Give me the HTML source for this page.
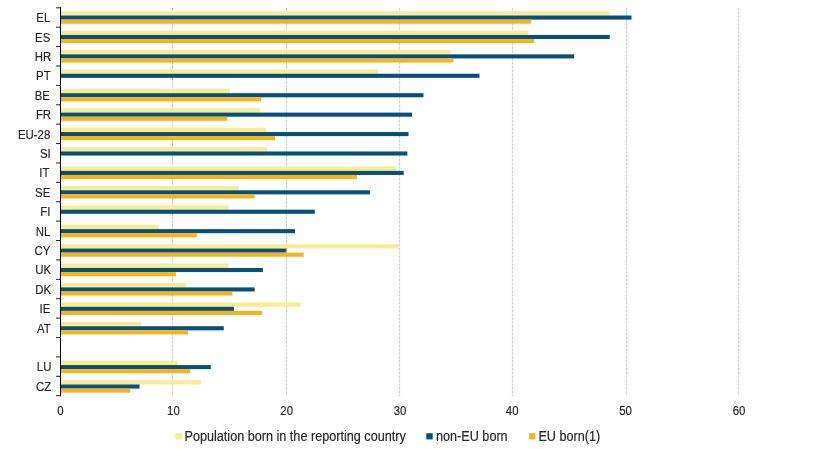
<!DOCTYPE html>
<html><head><meta charset="utf-8"><style>
html,body{margin:0;padding:0;background:#fff;}
body{width:817px;height:449px;position:relative;overflow:hidden;}
.lab{font-family:"Liberation Sans",sans-serif;font-size:11.4px;fill:#242424;stroke:#242424;stroke-width:0.14px;}
.leg{font-family:"Liberation Sans",sans-serif;font-size:12.65px;fill:#242424;stroke:#242424;stroke-width:0.15px;}
svg{will-change:transform;}
</style></head><body>
<svg width="817" height="449" viewBox="0 0 817 449" style="position:absolute;left:0;top:0">
<line x1="172.5" y1="8.0" x2="172.5" y2="396.0" stroke="#ececec" stroke-width="1.2"/>
<line x1="172.5" y1="8.0" x2="172.5" y2="396.0" stroke="#cdcdcd" stroke-width="1.2" stroke-dasharray="1.936,1.936"/>
<line x1="286.5" y1="8.0" x2="286.5" y2="396.0" stroke="#ececec" stroke-width="1.2"/>
<line x1="286.5" y1="8.0" x2="286.5" y2="396.0" stroke="#cdcdcd" stroke-width="1.2" stroke-dasharray="1.936,1.936"/>
<line x1="399.5" y1="8.0" x2="399.5" y2="396.0" stroke="#ececec" stroke-width="1.2"/>
<line x1="399.5" y1="8.0" x2="399.5" y2="396.0" stroke="#cdcdcd" stroke-width="1.2" stroke-dasharray="1.936,1.936"/>
<line x1="512.5" y1="8.0" x2="512.5" y2="396.0" stroke="#ececec" stroke-width="1.2"/>
<line x1="512.5" y1="8.0" x2="512.5" y2="396.0" stroke="#cdcdcd" stroke-width="1.2" stroke-dasharray="1.936,1.936"/>
<line x1="626.5" y1="8.0" x2="626.5" y2="396.0" stroke="#ececec" stroke-width="1.2"/>
<line x1="626.5" y1="8.0" x2="626.5" y2="396.0" stroke="#cdcdcd" stroke-width="1.2" stroke-dasharray="1.936,1.936"/>
<line x1="738.5" y1="8.0" x2="738.5" y2="396.0" stroke="#ececec" stroke-width="1.2"/>
<line x1="738.5" y1="8.0" x2="738.5" y2="396.0" stroke="#cdcdcd" stroke-width="1.2" stroke-dasharray="1.936,1.936"/>
<rect x="61.0" y="11.20" width="548.80" height="4.2" fill="#fbeb8e"/>
<rect x="61.0" y="15.50" width="570.50" height="4.1" fill="#065178"/>
<rect x="61.0" y="19.60" width="470.30" height="4.1" fill="#f8b31a"/>
<rect x="61.0" y="30.62" width="467.40" height="4.2" fill="#fbeb8e"/>
<rect x="61.0" y="34.92" width="548.80" height="4.1" fill="#065178"/>
<rect x="61.0" y="39.02" width="473.10" height="4.1" fill="#f8b31a"/>
<rect x="61.0" y="50.04" width="389.30" height="4.2" fill="#fbeb8e"/>
<rect x="61.0" y="54.34" width="513.20" height="4.1" fill="#065178"/>
<rect x="61.0" y="58.44" width="392.50" height="4.1" fill="#f8b31a"/>
<rect x="61.0" y="69.46" width="317.10" height="4.2" fill="#fbeb8e"/>
<rect x="61.0" y="73.76" width="418.50" height="4.1" fill="#065178"/>
<rect x="61.0" y="88.88" width="169.00" height="4.2" fill="#fbeb8e"/>
<rect x="61.0" y="93.18" width="362.50" height="4.1" fill="#065178"/>
<rect x="61.0" y="97.28" width="200.20" height="4.1" fill="#f8b31a"/>
<rect x="61.0" y="108.30" width="199.10" height="4.2" fill="#fbeb8e"/>
<rect x="61.0" y="112.60" width="351.10" height="4.1" fill="#065178"/>
<rect x="61.0" y="116.70" width="166.40" height="4.1" fill="#f8b31a"/>
<rect x="61.0" y="127.72" width="205.00" height="4.2" fill="#fbeb8e"/>
<rect x="61.0" y="132.02" width="347.50" height="4.1" fill="#065178"/>
<rect x="61.0" y="136.12" width="214.10" height="4.1" fill="#f8b31a"/>
<rect x="61.0" y="147.14" width="206.10" height="4.2" fill="#fbeb8e"/>
<rect x="61.0" y="151.44" width="346.40" height="4.1" fill="#065178"/>
<rect x="61.0" y="166.56" width="335.00" height="4.2" fill="#fbeb8e"/>
<rect x="61.0" y="170.86" width="342.70" height="4.1" fill="#065178"/>
<rect x="61.0" y="174.96" width="296.00" height="4.1" fill="#f8b31a"/>
<rect x="61.0" y="185.98" width="177.80" height="4.2" fill="#fbeb8e"/>
<rect x="61.0" y="190.28" width="308.90" height="4.1" fill="#065178"/>
<rect x="61.0" y="194.38" width="193.60" height="4.1" fill="#f8b31a"/>
<rect x="61.0" y="205.40" width="167.50" height="4.2" fill="#fbeb8e"/>
<rect x="61.0" y="209.70" width="253.80" height="4.1" fill="#065178"/>
<rect x="61.0" y="224.82" width="98.10" height="4.2" fill="#fbeb8e"/>
<rect x="61.0" y="229.12" width="234.00" height="4.1" fill="#065178"/>
<rect x="61.0" y="233.22" width="135.90" height="4.1" fill="#f8b31a"/>
<rect x="61.0" y="244.24" width="337.50" height="4.2" fill="#fbeb8e"/>
<rect x="61.0" y="248.54" width="225.40" height="4.1" fill="#065178"/>
<rect x="61.0" y="252.64" width="242.70" height="4.1" fill="#f8b31a"/>
<rect x="61.0" y="263.66" width="167.50" height="4.2" fill="#fbeb8e"/>
<rect x="61.0" y="267.96" width="201.90" height="4.1" fill="#065178"/>
<rect x="61.0" y="272.06" width="115.00" height="4.1" fill="#f8b31a"/>
<rect x="61.0" y="283.08" width="125.20" height="4.2" fill="#fbeb8e"/>
<rect x="61.0" y="287.38" width="193.70" height="4.1" fill="#065178"/>
<rect x="61.0" y="291.48" width="171.40" height="4.1" fill="#f8b31a"/>
<rect x="61.0" y="302.50" width="239.50" height="4.2" fill="#fbeb8e"/>
<rect x="61.0" y="306.80" width="173.00" height="4.1" fill="#065178"/>
<rect x="61.0" y="310.90" width="201.20" height="4.1" fill="#f8b31a"/>
<rect x="61.0" y="321.92" width="80.10" height="4.2" fill="#fbeb8e"/>
<rect x="61.0" y="326.22" width="162.80" height="4.1" fill="#065178"/>
<rect x="61.0" y="330.32" width="127.10" height="4.1" fill="#f8b31a"/>
<rect x="61.0" y="360.76" width="116.60" height="4.2" fill="#fbeb8e"/>
<rect x="61.0" y="365.06" width="149.80" height="4.1" fill="#065178"/>
<rect x="61.0" y="369.16" width="129.10" height="4.1" fill="#f8b31a"/>
<rect x="61.0" y="380.18" width="140.10" height="4.2" fill="#fbeb8e"/>
<rect x="61.0" y="384.48" width="78.60" height="4.1" fill="#065178"/>
<rect x="61.0" y="388.58" width="69.20" height="4.1" fill="#f8b31a"/>
<line x1="60.5" y1="7.3" x2="60.5" y2="396.2" stroke="#000" stroke-width="1"/>
<line x1="56" y1="7.8" x2="61.0" y2="7.8" stroke="#202020" stroke-width="1"/>
<line x1="56" y1="27.195" x2="61.0" y2="27.195" stroke="#202020" stroke-width="1"/>
<line x1="56" y1="46.589999999999996" x2="61.0" y2="46.589999999999996" stroke="#202020" stroke-width="1"/>
<line x1="56" y1="65.985" x2="61.0" y2="65.985" stroke="#202020" stroke-width="1"/>
<line x1="56" y1="85.38" x2="61.0" y2="85.38" stroke="#202020" stroke-width="1"/>
<line x1="56" y1="104.77499999999999" x2="61.0" y2="104.77499999999999" stroke="#202020" stroke-width="1"/>
<line x1="56" y1="124.17" x2="61.0" y2="124.17" stroke="#202020" stroke-width="1"/>
<line x1="56" y1="143.565" x2="61.0" y2="143.565" stroke="#202020" stroke-width="1"/>
<line x1="56" y1="162.96" x2="61.0" y2="162.96" stroke="#202020" stroke-width="1"/>
<line x1="56" y1="182.35500000000002" x2="61.0" y2="182.35500000000002" stroke="#202020" stroke-width="1"/>
<line x1="56" y1="201.75" x2="61.0" y2="201.75" stroke="#202020" stroke-width="1"/>
<line x1="56" y1="221.145" x2="61.0" y2="221.145" stroke="#202020" stroke-width="1"/>
<line x1="56" y1="240.54000000000002" x2="61.0" y2="240.54000000000002" stroke="#202020" stroke-width="1"/>
<line x1="56" y1="259.935" x2="61.0" y2="259.935" stroke="#202020" stroke-width="1"/>
<line x1="56" y1="279.33" x2="61.0" y2="279.33" stroke="#202020" stroke-width="1"/>
<line x1="56" y1="298.725" x2="61.0" y2="298.725" stroke="#202020" stroke-width="1"/>
<line x1="56" y1="318.12" x2="61.0" y2="318.12" stroke="#202020" stroke-width="1"/>
<line x1="56" y1="337.515" x2="61.0" y2="337.515" stroke="#202020" stroke-width="1"/>
<line x1="56" y1="356.91" x2="61.0" y2="356.91" stroke="#202020" stroke-width="1"/>
<line x1="56" y1="376.305" x2="61.0" y2="376.305" stroke="#202020" stroke-width="1"/>
<line x1="56" y1="395.7" x2="61.0" y2="395.7" stroke="#202020" stroke-width="1"/>
<text transform="translate(50.3,22.20) scale(1.0,1.08)" text-anchor="end" class="lab">EL</text>
<text transform="translate(50.3,41.60) scale(1.0,1.08)" text-anchor="end" class="lab">ES</text>
<text transform="translate(51.3,61.00) scale(1.0,1.08)" text-anchor="end" class="lab">HR</text>
<text transform="translate(50.599999999999994,80.40) scale(1.0,1.08)" text-anchor="end" class="lab">PT</text>
<text transform="translate(49.9,99.80) scale(1.0,1.08)" text-anchor="end" class="lab">BE</text>
<text transform="translate(51.099999999999994,119.20) scale(1.0,1.08)" text-anchor="end" class="lab">FR</text>
<text transform="translate(50.3,138.60) scale(1.0,1.08)" text-anchor="end" class="lab">EU-28</text>
<text transform="translate(50.8,158.00) scale(1.0,1.08)" text-anchor="end" class="lab">SI</text>
<text transform="translate(49.5,177.40) scale(1.0,1.08)" text-anchor="end" class="lab">IT</text>
<text transform="translate(50.3,196.80) scale(1.0,1.08)" text-anchor="end" class="lab">SE</text>
<text transform="translate(50.3,216.20) scale(1.0,1.08)" text-anchor="end" class="lab">FI</text>
<text transform="translate(50.3,235.60) scale(1.0,1.08)" text-anchor="end" class="lab">NL</text>
<text transform="translate(50.3,255.00) scale(1.0,1.08)" text-anchor="end" class="lab">CY</text>
<text transform="translate(51.199999999999996,274.40) scale(1.0,1.08)" text-anchor="end" class="lab">UK</text>
<text transform="translate(51.199999999999996,293.80) scale(1.0,1.08)" text-anchor="end" class="lab">DK</text>
<text transform="translate(50.3,313.20) scale(1.0,1.08)" text-anchor="end" class="lab">IE</text>
<text transform="translate(50.8,332.60) scale(1.0,1.08)" text-anchor="end" class="lab">AT</text>
<text transform="translate(51.4,371.40) scale(1.0,1.08)" text-anchor="end" class="lab">LU</text>
<text transform="translate(51.199999999999996,390.80) scale(1.0,1.08)" text-anchor="end" class="lab">CZ</text>
<text transform="translate(60.4,415.3) scale(1.0,1.08)" text-anchor="middle" class="lab">0</text>
<text transform="translate(173.4,415.3) scale(1.0,1.08)" text-anchor="middle" class="lab">10</text>
<text transform="translate(286.7,415.3) scale(1.0,1.08)" text-anchor="middle" class="lab">20</text>
<text transform="translate(400.0,415.3) scale(1.0,1.08)" text-anchor="middle" class="lab">30</text>
<text transform="translate(512.2,415.3) scale(1.0,1.08)" text-anchor="middle" class="lab">40</text>
<text transform="translate(625.5,415.3) scale(1.0,1.08)" text-anchor="middle" class="lab">50</text>
<text transform="translate(739.1,415.3) scale(1.0,1.08)" text-anchor="middle" class="lab">60</text>
<rect x="175.5" y="433.2" width="6.4" height="6.2" fill="#fbeb8e"/>
<text transform="translate(184.5,440.6) scale(1,1.1)" class="leg">Population born in the reporting country</text>
<rect x="426.3" y="433.2" width="6.4" height="6.2" fill="#065178"/>
<text transform="translate(436.0,440.6) scale(1,1.1)" class="leg">non-EU born</text>
<rect x="529.0" y="433.2" width="6.4" height="6.2" fill="#f8b31a"/>
<text transform="translate(538.4,440.6) scale(1,1.1)" class="leg">EU born(1)</text>
</svg>
</body></html>
